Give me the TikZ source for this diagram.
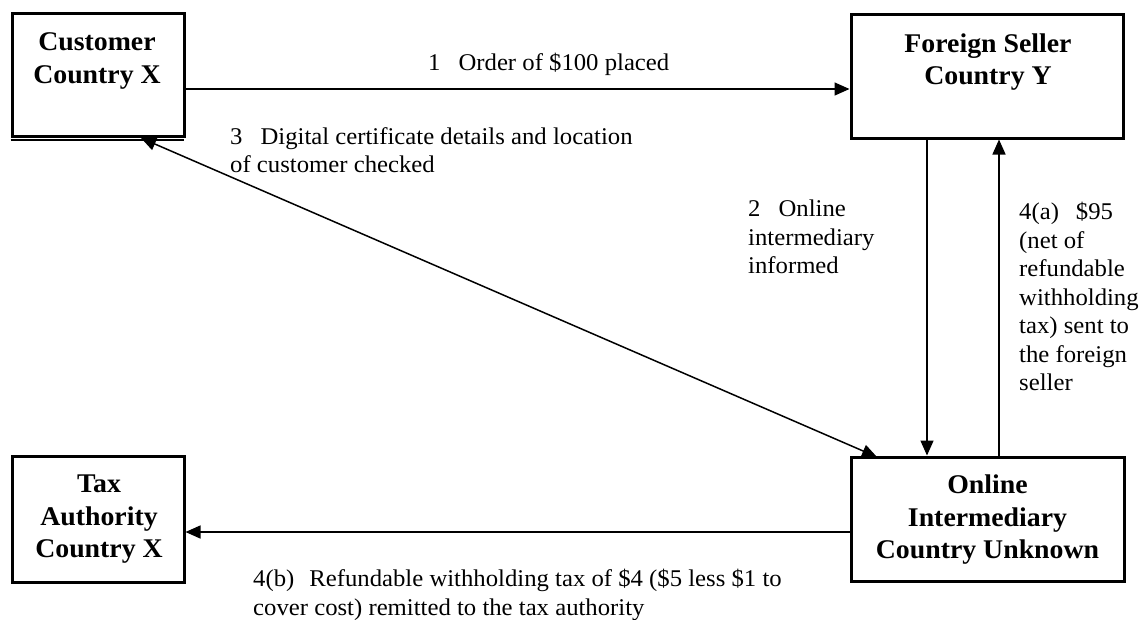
\documentclass[tikz,border=0pt]{standalone}
\usepackage{fontspec}
\setmainfont[FakeStretch=1.03]{Liberation Serif}
\newfontfamily\boxfont[FakeStretch=1.03]{Liberation Serif}
\usetikzlibrary{arrows.meta}
\begin{document}
\begin{tikzpicture}[x=1pt,y=-1pt,
  box/.style={draw=black, line width=3pt, fill=white, inner sep=0pt},
  btxt/.style={font=\boxfont\bfseries\fontsize{27}{32.5}\selectfont, align=center, inner sep=0pt, anchor=north},
  ltxt/.style={font=\fontsize{24}{28.5}\selectfont, align=left, inner sep=0pt, anchor=north west},
  conn/.style={line width=1.5pt, -{Triangle[length=15pt,width=13pt]}},
  conn2/.style={line width=1.5pt, {Triangle[length=15pt,width=13pt]}-{Triangle[length=15pt,width=13pt]}}]
\useasboundingbox (0,0) rectangle (1142,619);
% boxes
\node[box, minimum width=172pt, minimum height=123pt] (cust) at (98,74.5) {};
\node[box, minimum width=272pt, minimum height=124pt] (sell) at (987,76) {};
\node[box, minimum width=172pt, minimum height=126pt] (tax) at (98,519) {};
\node[box, minimum width=273pt, minimum height=124pt] (inter) at (987.5,519) {};
\draw[line width=1.2pt] (cust.south west) ++(0,2.5) -- ++(173,0);
% box texts
\node[btxt] (custT) at (97,32.5) {Customer\\Country X};
\node[btxt] (sellT) at (988,33.5) {Foreign Seller\\Country Y};
\node[btxt] (taxT) at (99,475) {Tax\\Authority\\Country X};
\node[btxt] (interT) at (987.5,475) {Online\\Intermediary\\Country Unknown};
% connectors
\coordinate (c3a) at (141,138);
\coordinate (c3b) at (877,457);
\draw[conn] (cust.east |- 0,89) -- (sell.west |- 0,89);
\draw[conn] (sell.south -| 927,0) -- (inter.north -| 927,0);
\draw[conn] (inter.north -| 999,0) -- (sell.south -| 999,0);
\draw[conn2] (c3a) -- (c3b);
\draw[conn] (inter.west |- 0,532) -- (tax.east |- 0,532);
% labels
\node[ltxt] (l1) at (428,53) {1\hspace{18pt}Order of \$100 placed};
\node[ltxt] (l3) at (230,127) {3\hspace{18pt}Digital certificate details and location\\of customer checked};
\node[ltxt] (l2) at (748,200) {2\hspace{18pt}Online\\intermediary\\informed};
\node[ltxt] (l4a) at (1019,202) {4(a)\hspace{17pt}\$95\\(net of\\refundable\\withholding\\tax) sent to\\the foreign\\seller};
\node[ltxt] (l4b) at (253,569) {4(b)\hspace{15pt}Refundable withholding tax of \$4 (\$5 less \$1 to\\cover cost) remitted to the tax authority};
\end{tikzpicture}
\end{document}
